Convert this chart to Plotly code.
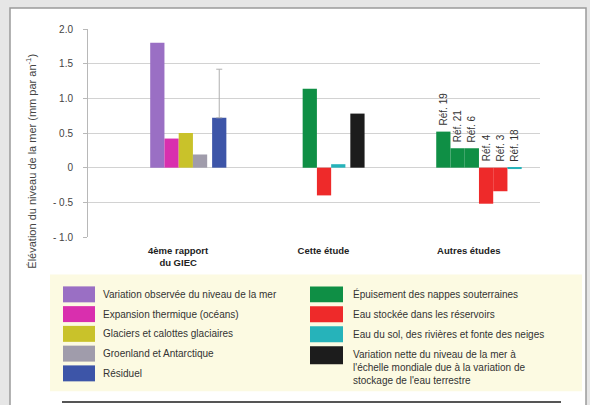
import plotly.graph_objects as go

categories = ["4ème rapport<br>du GIEC", "Cette étude", "Autres études"]

series_names = [
    "Variation observée du niveau de la mer",
    "Expansion thermique (océans)",
    "Glaciers et calottes glaciaires",
    "Groenland et Antarctique",
    "Résiduel",
    "Épuisement des nappes souterraines",
    "Eau stockée dans les réservoirs",
    "Eau du sol, des rivières et fonte des neiges",
    "Variation nette du niveau de la mer à<br>l'échelle mondiale due à la variation de<br>stockage de l'eau terrestre",
]
series_colors = ['#9a6fc4', '#d92fae', '#c9c22a', '#a09cab', '#3d55a8',
                 '#0f8f45', '#ee2a2a', '#26b3ba', '#1c1c1c']

# bars of each group: series index, value (mm/an)
giec_series = [0, 1, 2, 3, 4]
giec_values = [1.80, 0.42, 0.50, 0.19, 0.72]
giec_err_up = [0, 0, 0, 0, 0.70]

etude_series = [5, 6, 7, 8]
etude_values = [1.14, -0.40, 0.05, 0.78]

autres_series = [5, 5, 5, 6, 6, 7]
autres_values = [0.52, 0.28, 0.28, -0.52, -0.34, -0.02]
autres_refs = ["Réf. 19", "Réf. 21", "Réf. 6", "Réf. 4", "Réf. 3", "Réf. 18"]

y_ticks = [2.0, 1.5, 1.0, 0.5, 0, -0.5, -1.0]
y_tick_text = ["2.0", "1.5", "1.0", "0.5", "0", "- 0.5", "- 1.0"]

W, H = 590, 405
L, R, T, B = 88, 50, 29, 167.5
PW, PH = W - L - R, H - T - B
FONT = 'Liberation Sans, Arial, sans-serif'

BAR_W = 0.098
GAP = 0.034
SHIFT = 0.07
summary = {4, 8}  # bars drawn apart from the others


def px(x):
    return (x - L) / PW


def py(y):
    return (H - B - y) / PH


groups = [
    (0, giec_series, giec_values, giec_err_up, None),
    (1, etude_series, etude_values, [0] * len(etude_values), None),
    (2, autres_series, autres_values, [0] * len(autres_values), autres_refs),
]

per_series = {i: dict(x=[], y=[], off=[], err=[]) for i in range(len(series_names))}
ref_notes = []
for ci, s_list, v_list, errs, refs in groups:
    total = sum(BAR_W + (GAP if s in summary else 0) for s in s_list)
    pos = -total / 2 + SHIFT
    for k, (s, v, e) in enumerate(zip(s_list, v_list, errs)):
        if s in summary:
            pos += GAP
        d = per_series[s]
        d['x'].append(categories[ci])
        d['y'].append(v)
        d['off'].append(pos)
        d['err'].append(e)
        if refs:
            ref_notes.append((ci + pos + BAR_W / 2, max(v, 0), refs[k]))
        pos += BAR_W

fig = go.Figure()
for s, d in per_series.items():
    if not d['x']:
        continue
    fig.add_trace(go.Bar(
        x=d['x'], y=d['y'], offset=d['off'], width=BAR_W,
        marker=dict(color=series_colors[s], line=dict(width=0)),
        name=series_names[s], showlegend=False,
        error_y=dict(type='data', array=d['err'], arrayminus=[0] * len(d['err']),
                     visible=any(d['err']), color='#b0b0b0', thickness=1, width=3),
    ))

shapes = [
    dict(type='rect', xref='paper', yref='paper', x0=px(10), x1=px(586), y0=py(8), y1=py(412),
         fillcolor='white', line=dict(color='#9a9a9a', width=1.5), layer='below'),
    dict(type='rect', xref='paper', yref='paper', x0=px(50), x1=px(582), y0=py(275), y1=py(392),
         fillcolor='#fcfae2', line=dict(width=0), layer='below'),
    dict(type='line', xref='paper', yref='paper', x0=px(62), x1=px(561), y0=py(403), y1=py(403),
         line=dict(color='#555555', width=2)),
]

annotations = []
for x, y, t in ref_notes:
    annotations.append(dict(x=x, y=y, xref='x', yref='y', text=t, textangle=-90, showarrow=False,
                            xanchor='center', yanchor='bottom', yshift=4,
                            font=dict(family=FONT, size=10, color='#333')))

annotations.append(dict(x=px(22), y=py(162), xref='paper', yref='paper',
                        text='Élévation du niveau de la mer (mm par an<sup>-1</sup>)',
                        textangle=-90, showarrow=False,
                        font=dict(family=FONT, size=11, color='#444')))

# legend, two columns
left_col = [0, 1, 2, 3, 4]
right_col = [5, 6, 7, 8]
for row, s in enumerate(left_col):
    yc = 295 + row * 19.8
    shapes.append(dict(type='rect', xref='paper', yref='paper', x0=px(63), x1=px(95),
                       y0=py(yc - 8), y1=py(yc + 8), fillcolor=series_colors[s], line=dict(width=0)))
    annotations.append(dict(x=px(101), y=py(yc), xref='paper', yref='paper', text=series_names[s],
                            showarrow=False, xanchor='left', yanchor='middle',
                            font=dict(family=FONT, size=10, color='#333')))
for row, s in enumerate(right_col):
    yc = 295 + row * 20
    shapes.append(dict(type='rect', xref='paper', yref='paper', x0=px(310), x1=px(343),
                       y0=py(yc - 8), y1=py(yc + 10 if s == 8 else yc + 8),
                       fillcolor=series_colors[s], line=dict(width=0)))
    annotations.append(dict(x=px(351), y=py(yc - 7 if s == 8 else yc),
                            xref='paper', yref='paper', text=series_names[s],
                            showarrow=False, xanchor='left',
                            yanchor='top' if s == 8 else 'middle', align='left',
                            font=dict(family=FONT, size=10, color='#333')))

fig.update_layout(
    width=W, height=H,
    margin=dict(l=L, r=R, t=T, b=B, autoexpand=False),
    paper_bgcolor='#e6e6e6',
    plot_bgcolor='rgba(0,0,0,0)',
    barmode='overlay',
    showlegend=False,
    font=dict(family=FONT, color='#333'),
    xaxis=dict(type='category', categoryorder='array', categoryarray=categories,
               range=[-0.62, 2.49], showgrid=False, zeroline=False, showline=False,
               ticks='', ticklabelstandoff=6,
               tickfont=dict(family=FONT, size=9.5, color='#222', weight='bold')),
    yaxis=dict(range=[-1.0, 2.0], tickvals=y_ticks, ticktext=y_tick_text,
               showgrid=True, gridcolor='#d2d2d2', gridwidth=1, zeroline=False,
               showline=True, linecolor='#b8b8b8', ticks='outside', ticklen=4,
               tickcolor='#b8b8b8', ticklabelstandoff=8,
               tickfont=dict(family=FONT, size=10, color='#444')),
    shapes=shapes,
    annotations=annotations,
)

# the page's default body margin would push the figure 8 px off the window
fig.write_html("out.html", config={'displayModeBar': False},
               post_script="document.body.style.margin='0px';")
